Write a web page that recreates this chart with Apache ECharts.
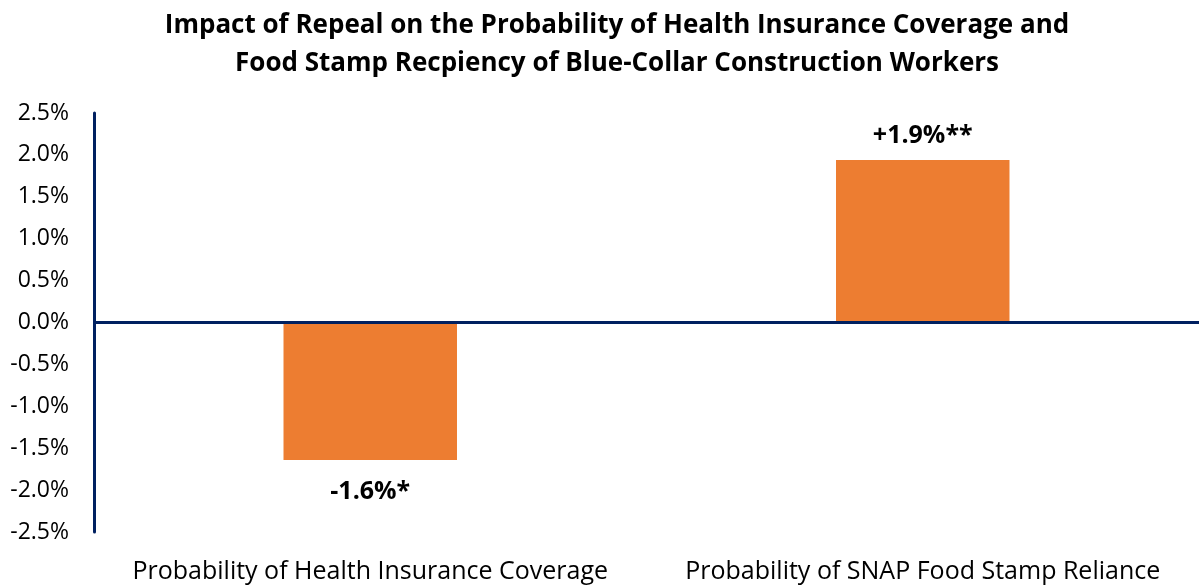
<!DOCTYPE html>
<html>
<head>
<meta charset="utf-8">
<script src="https://cdn.jsdelivr.net/npm/echarts@6/dist/echarts.min.js"></script>
<style>
html,body{margin:0;padding:0;background:#fff;}
#chart{width:1199px;height:586px;}
</style>
</head>
<body>
<div id="chart"></div>
<script>
const categories = ['Probability of Health Insurance Coverage', 'Probability of SNAP Food Stamp Reliance'];
const values = [-1.64, 1.94];
const valueLabels = ['-1.6%*', '+1.9%**'];
const titleLines = ['Impact of Repeal on the Probability of Health Insurance Coverage and', 'Food Stamp Recpiency of Blue-Collar Construction Workers'];
const yMin = -2.5, yMax = 2.5, yStep = 0.5;

const FONT = '"Open Sans", sans-serif';
const NAVY = '#002060';
const ORANGE = '#ED7D31';

const chart = echarts.init(document.getElementById('chart'));
chart.setOption({
  animation: false,
  backgroundColor: '#fff',
  title: {
    text: titleLines.join('\n'),
    left: 612, top: 2, textAlign: 'center',
    textStyle: { fontFamily: FONT, fontWeight: 'bold', fontSize: 26, lineHeight: 38, color: '#000' }
  },
  grid: { left: 94, width: 1110, top: 113, bottom: 54, containLabel: false },
  xAxis: {
    type: 'category', data: categories,
    axisLine: { show: false, onZero: false },
    axisTick: { show: false },
    axisLabel: { fontFamily: FONT, fontSize: 25, color: '#000', margin: 27, interval: 0 }
  },
  yAxis: {
    type: 'value', min: yMin, max: yMax, interval: yStep,
    axisLine: { show: true, lineStyle: { color: NAVY, width: 3 } },
    axisTick: { show: false },
    splitLine: { show: false },
    axisLabel: { fontFamily: FONT, fontSize: 23, color: '#000', margin: 25,
      formatter: v => v.toFixed(1) + '%' }
  },
  series: [{
    type: 'bar',
    barWidth: '31.4%',
    itemStyle: { color: ORANGE },
    data: values.map((v, i) => ({
      value: v,
      label: {
        show: true,
        position: v < 0 ? 'bottom' : 'top',
        distance: v < 0 ? 19 : 12,
        formatter: valueLabels[i],
        fontFamily: FONT, fontWeight: 'bold', fontSize: 25, color: '#000'
      }
    })),
    markLine: {
      silent: true, symbol: 'none', label: { show: false },
      lineStyle: { color: NAVY, width: 3, type: 'solid' },
      data: [{ yAxis: 0 }]
    }
  }]
});
</script>
</body>
</html>
